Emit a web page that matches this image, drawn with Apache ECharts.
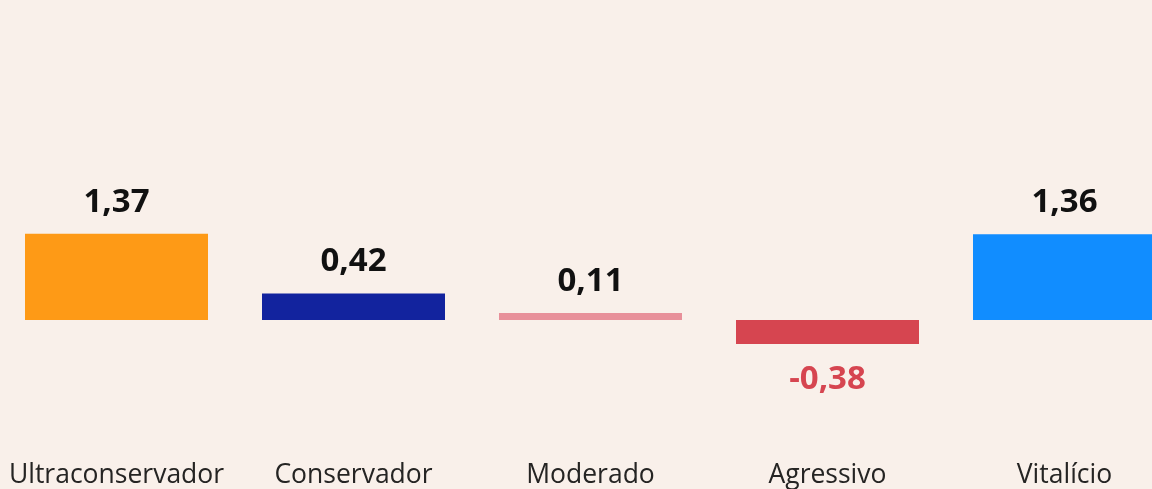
<!DOCTYPE html>
<html>
<head>
<meta charset="utf-8">
<script src="https://cdn.jsdelivr.net/npm/echarts@6/dist/echarts.min.js"></script>
<style>
  html, body { margin: 0; padding: 0; background: #F9F0EA; }
  #chart { width: 1152px; height: 489px; }
</style>
</head>
<body>
<div id="chart"></div>
<script>
const categories = ['Ultraconservador', 'Conservador', 'Moderado', 'Agressivo', 'Vitalício'];
const values = [1.37, 0.42, 0.11, -0.38, 1.36];
const barColors = ['#FE9A16', '#12239E', '#E8909A', '#D64550', '#118DFF'];

const chart = echarts.init(document.getElementById('chart'), null, { renderer: 'canvas' });

const seriesData = values.map((v, i) => ({
  value: v,
  itemStyle: { color: barColors[i] },
  label: {
    position: v < 0 ? 'bottom' : 'top',
    distance: v < 0 ? 19 : 15,
    color: v < 0 ? '#D64550' : '#111111'
  }
}));

chart.setOption({
  backgroundColor: '#F9F0EA',
  animation: false,
  grid: { left: -2, top: 5, width: 1185, height: 441, outerBoundsMode: 'none', containLabel: false },
  xAxis: {
    type: 'category',
    data: categories,
    axisLine: { show: false, onZero: false },
    axisTick: { show: false },
    axisLabel: {
      interval: 0,
      margin: 16,
      color: '#252423',
      fontFamily: 'Open Sans',
      fontSize: 26.5
    },
    splitLine: { show: false }
  },
  yAxis: {
    type: 'value',
    min: -2,
    max: 5,
    show: false,
    splitLine: { show: false }
  },
  series: [{
    type: 'bar',
    data: seriesData,
    barWidth: 183,
    label: {
      show: true,
      fontFamily: 'Open Sans',
      fontWeight: 'bold',
      fontSize: 33,
      formatter: p => p.value.toFixed(2).replace('.', ',')
    }
  }]
});
</script>
</body>
</html>
